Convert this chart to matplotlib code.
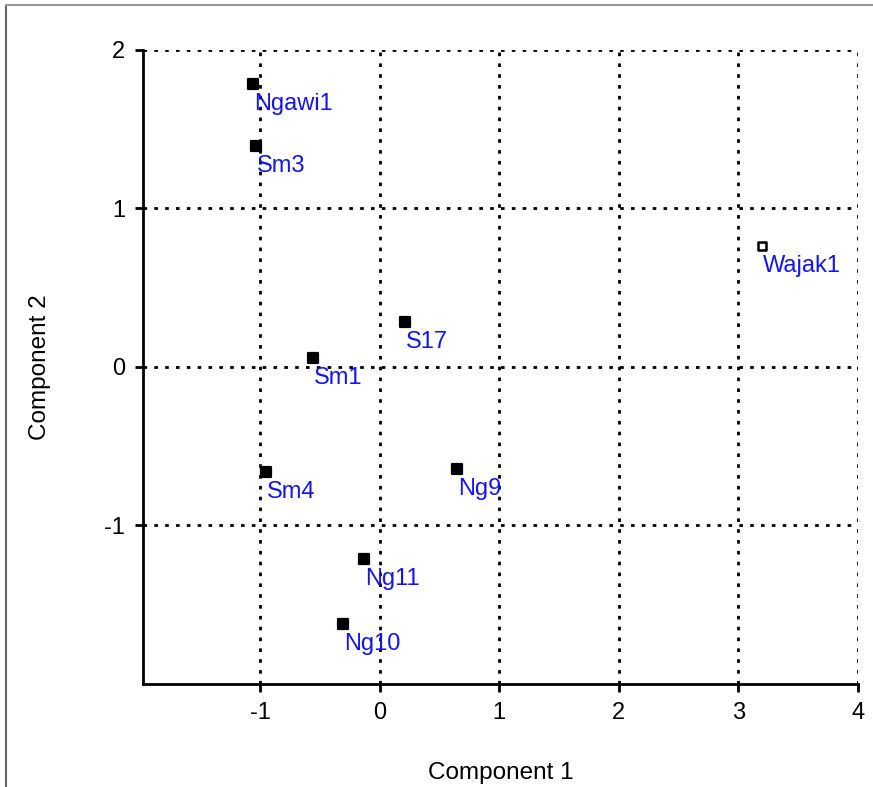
import matplotlib.pyplot as plt
from matplotlib.lines import Line2D
from matplotlib.markers import MarkerStyle

plt.rcParams['font.family'] = ['Liberation Sans', 'DejaVu Sans']
plt.rcParams['axes.unicode_minus'] = False

# PCA scores
names = ['Ngawi1', 'Sm3', 'Wajak1', 'S17', 'Sm1', 'Sm4', 'Ng9', 'Ng11', 'Ng10']
comp1 = [-1.063, -1.038, 3.197, 0.209, -0.561, -0.954, 0.644, -0.134, -0.310]
comp2 = [1.786, 1.394, 0.763, 0.284, 0.057, -0.662, -0.644, -1.211, -1.621]
hollow = [False, False, True, False, False, False, False, False, False]

xticks = [-1, 0, 1, 2, 3, 4]
yticks = [-1, 0, 1, 2]

fig = plt.figure(figsize=(8.73, 7.87), dpi=100)
ax = fig.add_axes([0.1638, 0.1309, 0.819, 0.8056])

# grey frame round the figure (top and left edges)
fig.add_artist(Line2D([6/873, 6/873], [0, 1 - 5/787], transform=fig.transFigure, color='#666666', lw=1.5))
fig.add_artist(Line2D([6/873, 1], [1 - 5/787, 1 - 5/787], transform=fig.transFigure, color='#999999', lw=1.5))

dots = (0, (1.3, 2.6))
for x in xticks:
    ax.axvline(x, color='black', lw=2, ls=dots, zorder=1)
for y in yticks:
    ax.axhline(y, color='black', lw=2, ls=dots, zorder=1)

sq = MarkerStyle('s', joinstyle='round')
for n, x, y, h in zip(names, comp1, comp2, hollow):
    if h:
        ax.plot(x, y, marker=sq, ms=5.5, mfc='white', mec='black', mew=1.8, ls='none', zorder=3)
    else:
        ax.plot(x, y, marker=sq, ms=6.8, mfc='black', mec='black', mew=1.6, ls='none', zorder=3)
    ax.annotate(n, (x, y), xytext=(1, -6.5), textcoords='offset points',
                ha='left', va='top', color='#1414f0', fontsize=17, zorder=4)

ax.set_xlim(-1.98, 4.0)
ax.set_ylim(-2.0, 2.0)
ax.set_xticks(xticks)
ax.set_yticks(yticks)
ax.spines['top'].set_visible(False)
ax.spines['right'].set_visible(False)
ax.spines['left'].set_linewidth(2)
ax.spines['bottom'].set_linewidth(2)
ax.tick_params(direction='out', length=6, width=2, labelsize=17, pad=7)
ax.set_xlabel('Component 1', fontsize=17.5, labelpad=27)
ax.set_ylabel('Component 2', fontsize=17.5, labelpad=38)

fig.savefig('out.png', dpi=100)
